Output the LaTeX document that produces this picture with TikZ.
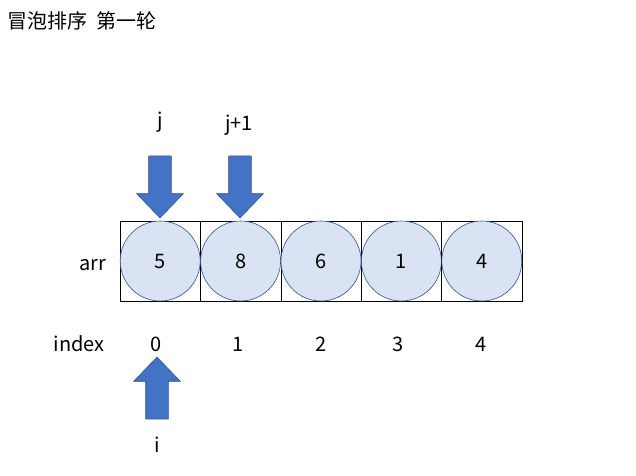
\documentclass[tikz,border=0pt]{standalone}
\usepackage{fontspec}
\setmainfont{Noto Sans CJK SC}
\usetikzlibrary{shapes.arrows}
\definecolor{cfill}{HTML}{DAE3F3}
\definecolor{cline}{HTML}{2F528F}
\definecolor{afill}{HTML}{4472C4}
\begin{document}
\begin{tikzpicture}[x=1pt,y=-1pt,
  cell/.style={draw=black,line width=0.6pt,minimum width=80.4pt,minimum height=80pt,inner sep=0pt},
  ball/.style={circle,draw=cline,fill=cfill,line width=0.6pt,minimum size=80pt,inner sep=0pt,font=\fontsize{20}{24}\selectfont},
  lbl/.style={font=\fontsize{20}{24}\selectfont,inner sep=0pt},
  arr/.style={single arrow,draw=cline,fill=afill,line width=0.6pt,inner xsep=0pt,inner ysep=11pt,single arrow head extend=12pt,minimum height=62pt,single arrow tip angle=88}]
\useasboundingbox (0,0) rectangle (636,475);
\node[anchor=west,inner sep=0pt,font=\fontsize{20}{24}\selectfont] (title) at (7,21) {冒泡排序\ \ 第一轮};
\foreach \i/\v/\x in {0/5/160.2,1/8/240.6,2/6/321,3/1/401.4,4/4/481.8}{
  \node[cell] (c\i) at (\x,261) {};
  \node[ball] (b\i) at (\x,261) {\v};
}
\foreach \i/\x in {0/156,1/238,2/321,3/398,4/481}{
  \node[lbl] (n\i) at (\x,344) {\i};
}
\node[lbl] (arrl) at (93,265) {arr};
\node[lbl] (idx) at (79,344) {index};
\node[lbl] (j) at (160,122) {j};
\node[lbl] (j1) at (239,125) {j+1};
\node[lbl] (i) at (157,445) {i};
\node[arr,rotate=-90] (aj) at (160,181) {};
\node[arr,rotate=-90] (aj1) at (240,181) {};
\node[arr,rotate=90] (ai) at (157,394) {};
\end{tikzpicture}
\end{document}
